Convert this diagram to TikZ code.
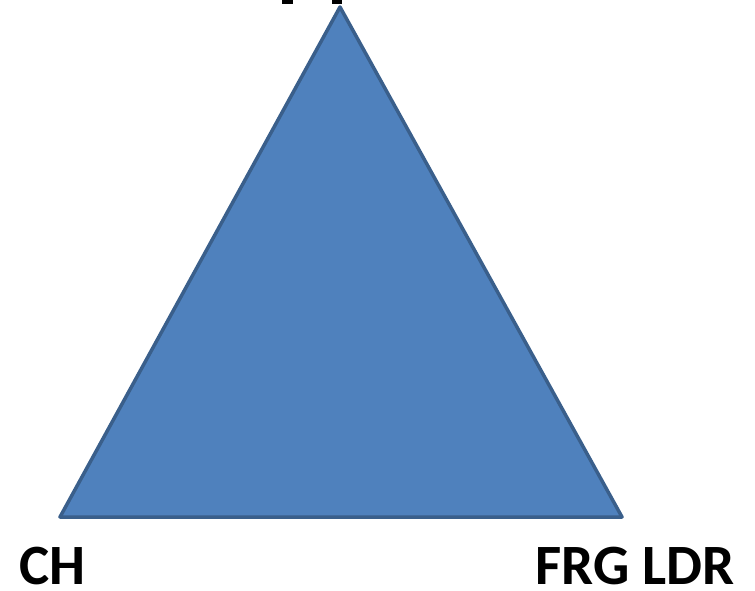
\documentclass[tikz,border=0pt]{standalone}
\usepackage{fontspec}
\setmainfont{Carlito}
\definecolor{triFill}{HTML}{4F81BD}
\definecolor{triEdge}{HTML}{3A5F8B}
\tikzset{
  lbl/.style={font=\fontsize{57}{57}\selectfont\bfseries, inner sep=0pt, anchor=base west, text=black},
  tri/.style={fill=triFill, draw=triEdge, line width=3.5pt, line join=round},
  frag/.style={fill=black, draw=none}
}
\begin{document}
\begin{tikzpicture}[x=1pt,y=-1pt]
\useasboundingbox (0,0) rectangle (755,591);
\coordinate (apex) at (340,7);
\coordinate (bl) at (60,517);
\coordinate (br) at (622,517);
\filldraw[tri] (apex) -- (br) -- (bl) -- cycle;
\fill[frag] (282,0) rectangle (293,4);
\fill[frag] (332,0) rectangle (342,4);
\node[lbl] (ch) at (19,584) {CH};
\node[lbl] (frg) at (535,584) {FRG LDR};
\end{tikzpicture}
\end{document}
